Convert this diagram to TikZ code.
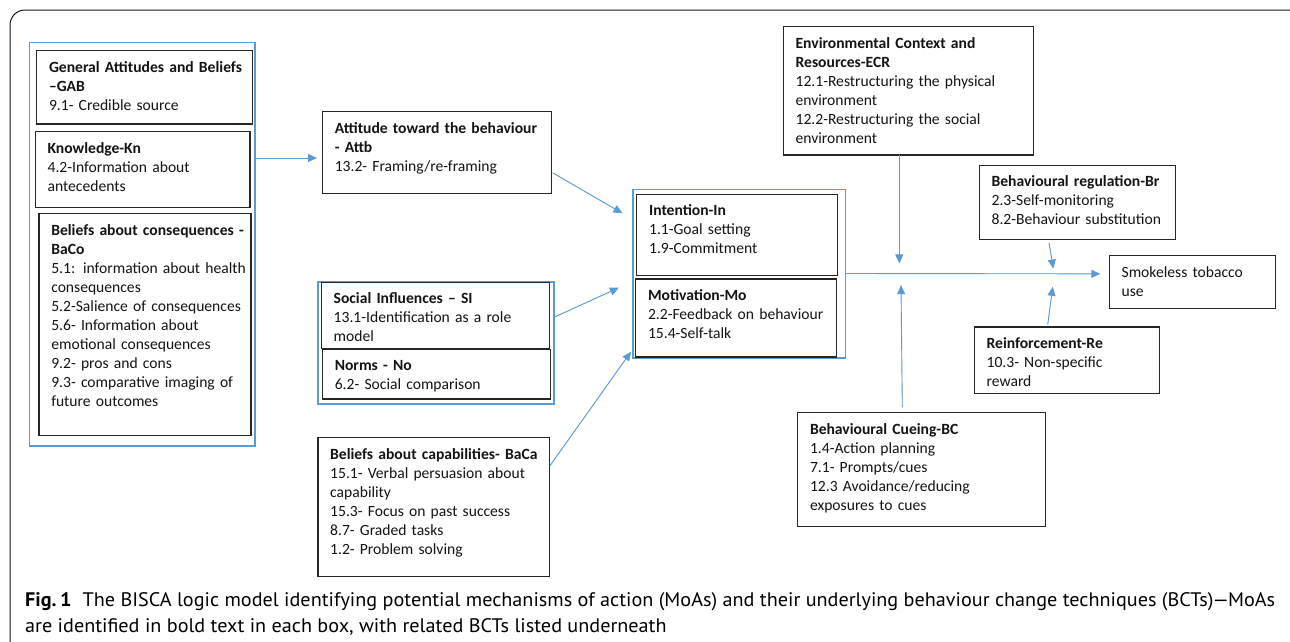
\documentclass[tikz,border=0pt]{standalone}
\usepackage{fontspec}
\setmainfont{Carlito}
\newfontfamily\capfont{PT Sans}
\usetikzlibrary{arrows.meta,calc}
\definecolor{bblue}{HTML}{5B9BD5}
\definecolor{bline}{HTML}{262626}
\newsavebox\capboxA
\newsavebox\capboxB
\newcommand{\mkbox}[6]{%
  \pgfmathsetmacro\mkW{#4-#2}\pgfmathsetmacro\mkH{#5-#3}\pgfmathsetmacro\mkT{#4-#2-13}%
  \node[bx, minimum width=\mkW pt, minimum height=\mkH pt, anchor=north west] (#1) at (#2,#3) {};
  \node[tx, text width=\mkT pt, anchor=base west] (#1t) at ($(#1.north west)+(12.3,21.6)$) {#6};
}
\newcommand{\mkgrp}[5]{%
  \pgfmathsetmacro\mkW{#4-#2}\pgfmathsetmacro\mkH{#5-#3}%
  \node[grp, minimum width=\mkW pt, minimum height=\mkH pt, anchor=north west] (#1) at (#2,#3) {};
}
\begin{document}
\sbox\capboxA{\capfont\fontsize{19.6}{26}\selectfont\textbf{Fig.\,1}\hspace{0.55em}The BISCA logic model identifying potential mechanisms of action (MoAs) and their underlying behaviour change techniques (BCTs)\kern-1pt—\kern-1pt MoAs}%
\sbox\capboxB{\capfont\fontsize{19.6}{26}\selectfont are identified in bold text in each box, with related BCTs listed underneath}%
\newdimen\capwd
\capwd=\wd\capboxA
\pgfmathsetmacro\capsc{1250/\capwd}%
\begin{tikzpicture}[x=1pt,y=-1pt,
  bx/.style={draw=bline, line width=1.3pt, inner sep=0pt, outer sep=0pt, rectangle},
  grp/.style={draw=bblue, line width=1.6pt, inner sep=0pt, outer sep=0pt, rectangle},
  tx/.style={inner sep=0pt, outer sep=0pt, align=left, text=black!92, font=\fontsize{15.6}{19}\selectfont},
  arr/.style={draw=bblue, fill=bblue, line width=0.9pt, -{Triangle[length=9pt,width=8pt]}},
  frame/.style={draw=black!90, line width=1pt, rounded corners=15pt}]
\useasboundingbox (0,0) rectangle (1290,641);
\clip (0,0) rectangle (1290,641);
\fill[white] (0,0) rectangle (1290,641);
\draw[frame] (10,700) -- (10,10) -- (1305,10) -- (1305,700);
% groups
\mkgrp{grpA}{29.3}{42.3}{255}{445.7}
\mkgrp{grpS}{317.9}{281.7}{553.9}{403.7}
\mkgrp{grpM}{633.2}{189.3}{845.4}{357.7}
% boxes
\mkbox{GAB}{36.7}{50.7}{252.3}{124}{\textbf{General Attitudes and Beliefs}\\\textbf{–GAB}\\9.1- Credible source}
\mkbox{Kn}{35.3}{131.7}{250}{207.3}{\textbf{Knowledge-Kn}\\4.2-Information about\\antecedents}
\mkbox{BaCo}{39}{213.7}{251}{435.7}{\textbf{Beliefs about consequences -}\\\textbf{BaCo}\\5.1: information about health\\consequences\\5.2-Salience of consequences\\5.6- Information about\\emotional consequences\\9.2- pros and cons\\9.3- comparative imaging of\\future outcomes}
\mkbox{Attb}{322.5}{111.7}{551.8}{193.3}{\textbf{Attitude toward the behaviour}\\\textbf{- Attb}\\13.2- Framing/re-framing}
\mkbox{SI}{321.4}{282.3}{549.3}{348.3}{\textbf{Social Influences – SI}\\13.1-Identification as a role\\model}
\mkbox{No}{322.5}{349.3}{550.7}{399}{\textbf{Norms - No}\\6.2- Social comparison}
\mkbox{BaCa}{317.9}{437.7}{549.3}{576.7}{\textbf{Beliefs about capabilities- BaCa}\\15.1- Verbal persuasion about\\capability\\15.3- Focus on past success\\8.7- Graded tasks\\1.2- Problem solving}
\mkbox{In}{636.8}{194.3}{837.5}{275.7}{\textbf{Intention-In}\\1.1-Goal setting\\1.9-Commitment}
\mkbox{Mo}{635.7}{279}{836.8}{357}{\textbf{Motivation-Mo}\\2.2-Feedback on behaviour\\15.4-Self-talk}
\mkbox{ECR}{783.3}{26.5}{1033.3}{155}{\textbf{Environmental Context and}\\\textbf{Resources-ECR}\\12.1-Restructuring the physical\\environment\\12.2-Restructuring the social\\environment}
\mkbox{Br}{979.3}{165.3}{1175.3}{239.3}{\textbf{Behavioural regulation-Br}\\2.3-Self-monitoring\\8.2-Behaviour substitution}
\mkbox{Smk}{1109.3}{255.5}{1275.7}{308.2}{Smokeless tobacco\\use}
\mkbox{Re}{974.3}{327.1}{1159.3}{393.6}{\textbf{Reinforcement-Re}\\10.3- Non-specific\\reward}
\mkbox{BC}{797.7}{412.5}{1045.3}{526.2}{\textbf{Behavioural Cueing-BC}\\1.4-Action planning\\7.1- Prompts/cues\\12.3 Avoidance/reducing\\exposures to cues}
% connectors
\coordinate (a1s) at ($(grpA.north east)+(0,115.7)$);
\draw[arr, shorten >=5.5pt] (a1s) -- (Attb.west |- a1s);
\draw[arr] ($(Attb.north east)+(0.7,61)$) -- ($(grpM.north west)+(-10.7,24)$);
\draw[arr] ($(grpS.north east)+(0,35.6)$) -- ($(grpM.north west)+(-14.3,98.4)$);
\draw[arr] ($(BaCa.north east)+(0.7,28)$) -- ($(grpM.south west)+(-2.2,-6)$);
\draw[arr] (grpM.east) -- ($(Smk.west)+(-9,-8)$);
\draw[arr] ($(ECR.south)+(-9,0)$) -- ($(ECR.south)+(-9,108.4)$);
\draw[arr] ($(BC.north)+(-19.2,-5.1)$) -- ($(BC.north)+(-20.5,-127.4)$);
\draw[arr] ($(Br.south)+(-28.3,3.5)$) -- ($(Br.south)+(-24,29.3)$);
\draw[arr] ($(Re.north)+(-19.1,-2.4)$) -- ($(Re.north)+(-14.1,-40.3)$);
% caption
\node[inner sep=0pt, anchor=base west] (cap1) at (25,606) {\scalebox{\capsc}[1]{\usebox\capboxA}};
\node[inner sep=0pt, anchor=base west] (cap2) at (25,632) {\scalebox{\capsc}[1]{\usebox\capboxB}};
\end{tikzpicture}
\end{document}
